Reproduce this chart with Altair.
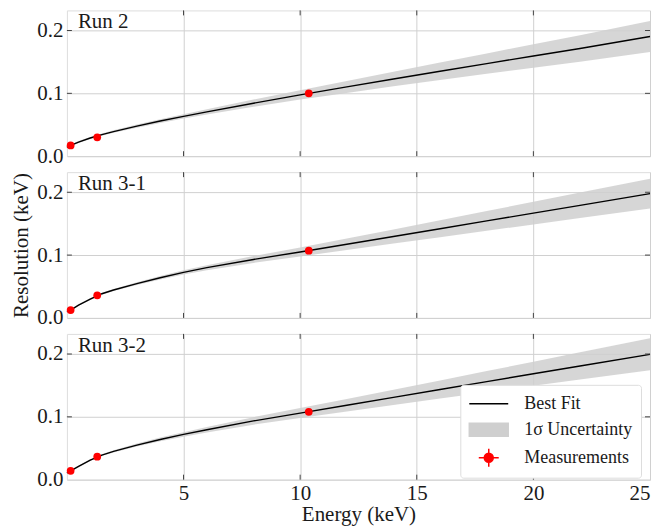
import altair as alt
import pandas as pd

# ---------------- data ----------------
run_names = ["Run 2", "Run 3-1", "Run 3-2"]

energy = [0, 0.16, 0.5, 1, 1.5, 2, 3, 4, 5, 6, 8, 10, 12, 14, 16, 18, 20, 22, 25]

fit_run2 = [0.0141, 0.0172, 0.0225, 0.0289, 0.0343, 0.0391, 0.0479, 0.0559, 0.0634, 0.0706,
            0.0843, 0.0975, 0.1102, 0.1228, 0.1351, 0.1473, 0.1594, 0.1714, 0.1905]
err_run2 = [0.0015, 0.0015, 0.0015, 0.0016, 0.0018, 0.0020, 0.0025, 0.0030, 0.0035, 0.0042,
            0.0057, 0.0075, 0.0095, 0.0117, 0.0140, 0.0163, 0.0187, 0.0211, 0.0248]

fit_run31 = [0.0100, 0.0125, 0.0205, 0.0300, 0.0385, 0.0445, 0.0545, 0.0640, 0.0725, 0.0800,
             0.0930, 0.1050, 0.1172, 0.1296, 0.1420, 0.1544, 0.1668, 0.1792, 0.1978]
err_run31 = [0.0012, 0.0012, 0.0012, 0.0013, 0.0015, 0.0017, 0.0022, 0.0027, 0.0033, 0.0040,
             0.0055, 0.0072, 0.0092, 0.0113, 0.0135, 0.0157, 0.0180, 0.0203, 0.0235]

fit_run32 = [0.0110, 0.0140, 0.0210, 0.0310, 0.0390, 0.0450, 0.0550, 0.0640, 0.0720, 0.0795,
             0.0935, 0.1060, 0.1185, 0.1310, 0.1435, 0.1560, 0.1685, 0.1810, 0.1995]
err_run32 = [0.0012, 0.0012, 0.0012, 0.0013, 0.0015, 0.0018, 0.0024, 0.0030, 0.0036, 0.0043,
             0.0060, 0.0079, 0.0100, 0.0122, 0.0145, 0.0168, 0.0192, 0.0216, 0.0255]

meas_energy = [0.16, 1.30, 10.37]
meas_run2 = [0.0170, 0.0300, 0.1000]
meas_run31 = [0.0125, 0.0360, 0.1070]
meas_run32 = [0.0140, 0.0365, 0.1080]

x_ticks = [5, 10, 15, 20, 25]
y_ticks = [0.0, 0.1, 0.2]
legend_labels = ["Best Fit", "1σ Uncertainty", "Measurements"]

fits = [fit_run2, fit_run31, fit_run32]
errs = [err_run2, err_run31, err_run32]
meas = [meas_run2, meas_run31, meas_run32]

# ---------------- style ----------------
FONT = "Liberation Serif"
W, H = 584, 146
GAP = 16
TXT = "#1a1a1a"
GRID = "#d0d0d0"
TICK = "#444444"

xs = alt.Scale(domain=[0, 25], nice=False, zero=False)
ys = alt.Scale(domain=[0, 0.232], nice=False, zero=False)

path_line = "M-1,0H2.9"
path_rect = "M-1,-0.65H2.9V0.65H-1Z"
path_meas = ("M-0.05,0H1.95M0.95,-0.9V0.9"
             "M0.5,0A0.45,0.45 0 1,0 1.4,0A0.45,0.45 0 1,0 0.5,0Z")


def panel(i):
    name = run_names[i]
    bottom = i == 2
    middle = i == 1

    xaxis = alt.Axis(values=x_ticks, grid=True, gridColor=GRID, gridWidth=1,
                     domain=False, ticks=False, labels=bottom,
                     labelFont=FONT, labelFontSize=21, labelColor=TXT, labelPadding=3,
                     labelFlush=True,
                     title="Energy (keV)" if bottom else None,
                     titleFont=FONT, titleFontSize=21, titleFontWeight="normal",
                     titleColor=TXT, titlePadding=0)
    yaxis = alt.Axis(values=y_ticks, format=".1f", grid=True, gridColor=GRID, gridWidth=1,
                     domain=False, ticks=False,
                     labelFont=FONT, labelFontSize=21, labelColor=TXT, labelPadding=4,
                     labelFlush=False,
                     title="Resolution (keV)" if middle else None,
                     titleFont=FONT, titleFontSize=21, titleFontWeight="normal",
                     titleColor=TXT, titlePadding=5)

    curve = pd.DataFrame({"E": energy, "res": fits[i]})
    curve["lo"] = [f - e for f, e in zip(fits[i], errs[i])]
    curve["hi"] = [f + e for f, e in zip(fits[i], errs[i])]
    pts = pd.DataFrame({"E": meas_energy, "res": meas[i]})
    xt = pd.DataFrame({"E": [v for v in x_ticks if v < 25]})
    yt = pd.DataFrame({"res": [v for v in y_ticks if v > 0]})

    X = lambda: alt.X("E:Q", scale=xs, axis=xaxis)

    band = alt.Chart(curve).mark_area(color="#cfcfcf", opacity=0.85).encode(
        x=X(), y=alt.Y("lo:Q", scale=ys, axis=yaxis), y2="hi:Q")
    line = alt.Chart(curve).mark_line(color="black", strokeWidth=1.4).encode(
        x=X(), y=alt.Y("res:Q", scale=ys, axis=yaxis))
    dots = alt.Chart(pts).mark_circle(color="red", size=60, opacity=1).encode(
        x=X(), y=alt.Y("res:Q", scale=ys, axis=yaxis))
    tb = alt.Chart(xt).mark_rule(color=TICK, strokeWidth=1).encode(
        x=X(), y=alt.value(H), y2=alt.value(H - 5))
    tt = alt.Chart(xt).mark_rule(color=TICK, strokeWidth=1).encode(
        x=X(), y=alt.value(0), y2=alt.value(5))
    tl = alt.Chart(yt).mark_rule(color=TICK, strokeWidth=1).encode(
        y=alt.Y("res:Q", scale=ys, axis=yaxis), x=alt.value(0), x2=alt.value(5))
    tr = alt.Chart(yt).mark_rule(color=TICK, strokeWidth=1).encode(
        y=alt.Y("res:Q", scale=ys, axis=yaxis), x=alt.value(W), x2=alt.value(W - 5))
    label = alt.Chart(pd.DataFrame({"run": [name]})).mark_text(
        align="left", baseline="top", font=FONT, fontSize=21, color=TXT).encode(
        x=alt.value(11), y=alt.value(1), text="run:N")

    layers = [band, line, dots, tb, tt, tl, tr, label]

    if bottom:
        leg = alt.Legend(title=None, orient="none", legendX=394, legendY=2 * (H + GAP) + 51,
                         symbolSize=400, symbolStrokeWidth=1.5, symbolOpacity=1,
                         labelFont=FONT, labelFontSize=18, labelColor=TXT,
                         labelOffset=34, rowPadding=6, padding=8,
                         strokeColor="#dddddd", fillColor="white", cornerRadius=3)
        leg_df = pd.DataFrame({"kind": legend_labels})
        legend_layer = alt.Chart(leg_df).transform_filter(
            "datum.kind == 'none'").mark_point(filled=True).encode(
            x=alt.value(0), y=alt.value(0),
            shape=alt.Shape("kind:N", scale=alt.Scale(domain=legend_labels,
                            range=[path_line, path_rect, path_meas]), legend=leg),
            fill=alt.Fill("kind:N", scale=alt.Scale(domain=legend_labels,
                          range=["black", "#cfcfcf", "red"]), legend=leg),
            stroke=alt.Stroke("kind:N", scale=alt.Scale(domain=legend_labels,
                              range=["black", "#cfcfcf", "red"]), legend=leg),
        )
        layers.append(legend_layer)

    return alt.layer(*layers).properties(width=W, height=H)


chart = alt.vconcat(panel(0), panel(1), panel(2), spacing=GAP, bounds="flush").properties(
    padding={"left": 2, "top": 1, "right": 0, "bottom": 0}
).configure_view(stroke="#444444", strokeWidth=1.3).configure(background="white")

chart.save("out.html", embed_options={"renderer": "svg", "actions": False})
